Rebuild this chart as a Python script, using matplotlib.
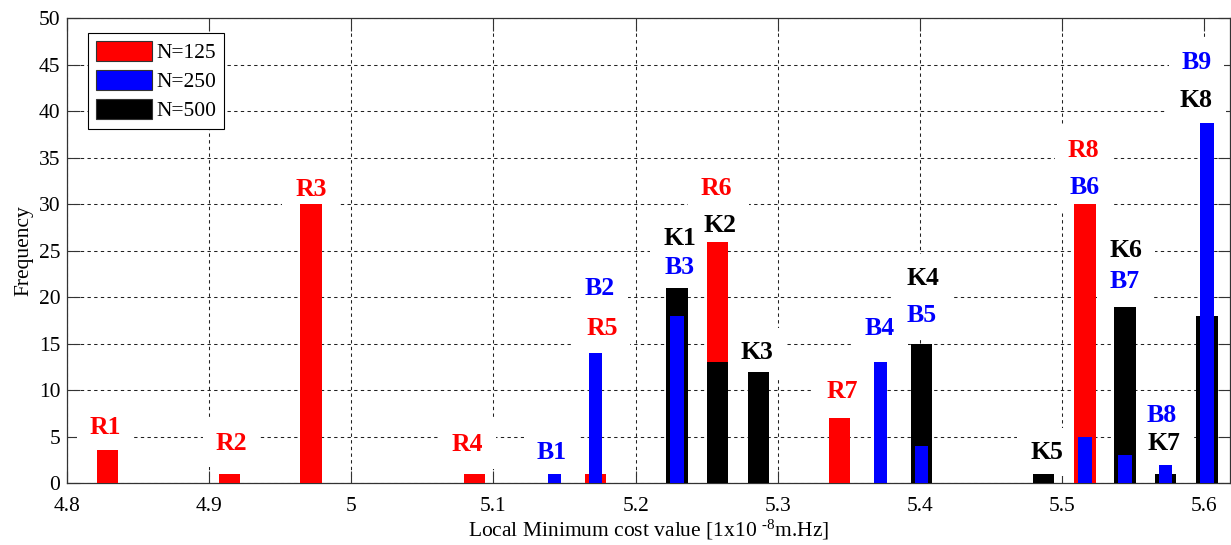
import matplotlib
matplotlib.use('Agg')
import matplotlib.pyplot as plt
from matplotlib.patches import Patch

plt.rcParams['font.family'] = ['Liberation Serif', 'DejaVu Serif']
plt.rcParams['mathtext.fontset'] = 'custom'
plt.rcParams['mathtext.rm'] = 'Liberation Serif'
plt.rcParams['mathtext.it'] = 'Liberation Serif:italic'
plt.rcParams['mathtext.bf'] = 'Liberation Serif:bold'

# ---- data ----
red_x = [4.8285, 4.9143, 4.9718, 5.0867, 5.1720, 5.2577, 5.3434, 5.5160]
red_y = [3.6, 1, 30, 1, 1, 26, 7, 30]

blue_x = [5.1432, 5.1720, 5.2292, 5.3722, 5.4010, 5.5160, 5.5442, 5.5725, 5.6017]
blue_y = [1, 14, 18, 13, 4, 5, 3, 2, 38.7]

black_x = [5.2292, 5.2577, 5.2865, 5.4010, 5.4868, 5.5442, 5.5725, 5.6017]
black_y = [21, 13, 12, 15, 1, 19, 1, 18]

series_names = ['N=125', 'N=250', 'N=500']

label_names = ['R1', 'R2', 'R3', 'R4', 'B1', 'R5', 'B2', 'K1', 'B3', 'R6', 'K2', 'K3',
               'R7', 'B4', 'B5', 'K4', 'K5', 'R8', 'B6', 'K6', 'B7', 'B8', 'K7', 'B9', 'K8']
label_x = [4.827, 4.9161, 4.9717, 5.0818, 5.1411, 5.1763, 5.1748, 5.2310, 5.2310, 5.2570,
           5.2591, 5.2851, 5.3456, 5.3716, 5.4011, 5.4018, 5.4890, 5.5150, 5.5157, 5.5445,
           5.5438, 5.5698, 5.5712, 5.5944, 5.5944]
label_y = [6.04, 4.33, 31.6, 4.21, 3.36, 16.64, 20.93, 26.29, 23.18, 31.75,
           27.68, 14.07, 9.89, 16.64, 18.03, 21.99, 3.36, 35.82, 31.85, 25.0,
           21.68, 7.32, 4.32, 45.25, 41.18]

x_ticks = [4.8, 4.9, 5.0, 5.1, 5.2, 5.3, 5.4, 5.5, 5.6]
x_tick_labels = ['4.8', '4.9', '5', '5.1', '5.2', '5.3', '5.4', '5.5', '5.6']
y_ticks = [0, 5, 10, 15, 20, 25, 30, 35, 40, 45, 50]

RED, BLUE, BLACK = '#ff0000', '#0000ff', '#000000'
color_of = {'R': RED, 'B': BLUE, 'K': BLACK}

fig = plt.figure(figsize=(12.31, 5.45), dpi=100)
ax = fig.add_axes([0.0542, 0.1132, 0.9450, 0.8532])

ax.bar(red_x, red_y, width=0.015, color=RED, linewidth=0, zorder=3)
ax.bar(black_x, black_y, width=0.015, color=BLACK, linewidth=0, zorder=3.1)
ax.bar(blue_x, blue_y, width=0.0094, color=BLUE, linewidth=0, zorder=3.2)

# white label boxes first (hide the grid), then the label texts
for name, lx, ly in zip(label_names, label_x, label_y):
    ax.text(lx, ly, name, color='none', fontsize=18.5, fontweight='bold',
            ha='center', va='center', zorder=1.9,
            bbox=dict(boxstyle='square,pad=0.5', fc='white', ec='none'))
for name, lx, ly in zip(label_names, label_x, label_y):
    ax.text(lx, ly, name, color=color_of[name[0]], fontsize=18.5, fontweight='bold',
            ha='center', va='center', zorder=2)

ax.set_xlim(4.8, 5.618)
ax.set_ylim(0, 50)
ax.set_xticks(x_ticks)
ax.set_xticklabels(x_tick_labels)
ax.set_yticks(y_ticks)

ax.grid(True, linestyle=(0, (3.2, 3.2)), linewidth=0.75, color='#222222')
ax.set_axisbelow(True)
ax.tick_params(direction='in', top=True, right=True, length=9, width=0.8,
               color='#333333', labelsize=15.5)
ax.tick_params(axis='y', pad=4.5)
ax.tick_params(axis='x', pad=10)
for s in ax.spines.values():
    s.set_color('#333333')
    s.set_linewidth(0.9)

ax.set_xlabel(r'Local Minimum cost value [1x10 $^{\text{-}8}$m.Hz]', fontsize=15.5, labelpad=1)
ax.set_ylabel('Frequency', fontsize=15.5, labelpad=4)

handles = [Patch(facecolor=RED, edgecolor='#333333', linewidth=0.8, label=series_names[0]),
           Patch(facecolor=BLUE, edgecolor='#333333', linewidth=0.8, label=series_names[1]),
           Patch(facecolor=BLACK, edgecolor='#333333', linewidth=0.8, label=series_names[2])]
leg = ax.legend(handles=handles, loc='upper left', bbox_to_anchor=(0.0183, 0.9684),
                borderaxespad=0, fontsize=15.5, handlelength=2.6, handleheight=1.1,
                labelspacing=0.3, handletextpad=0.25, borderpad=0.35,
                frameon=True, fancybox=False, framealpha=1, edgecolor='black')
leg.get_frame().set_linewidth(0.8)
leg.set_zorder(5)

fig.savefig('out.png', dpi=100)
